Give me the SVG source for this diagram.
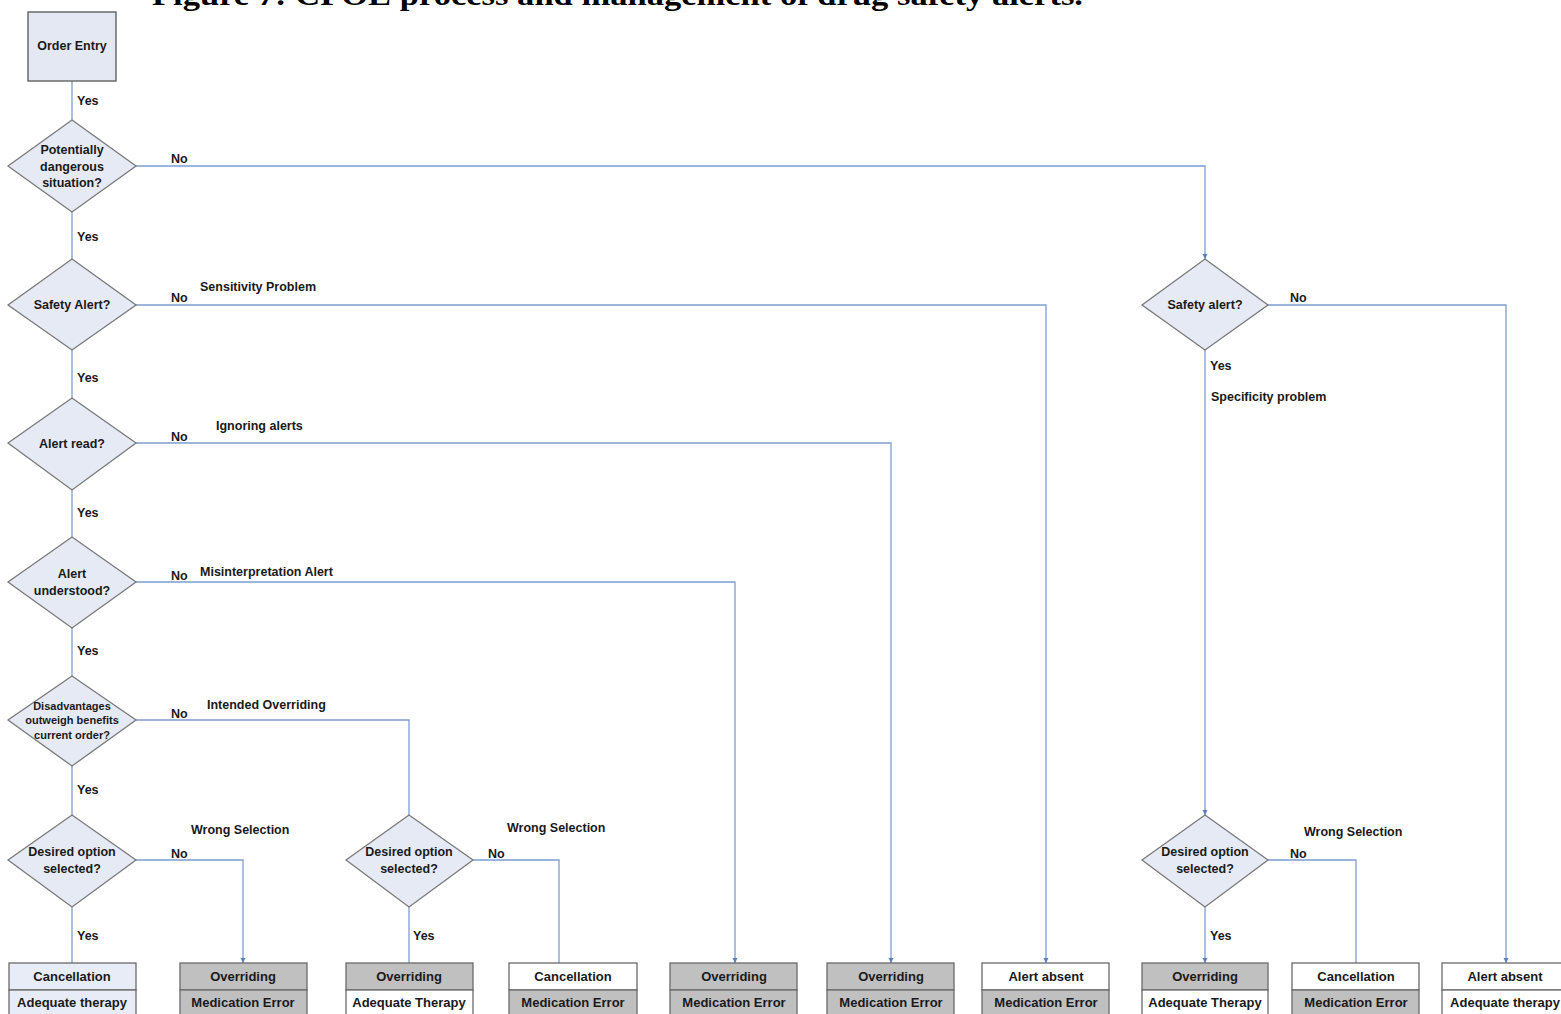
<svg xmlns="http://www.w3.org/2000/svg" width="1561" height="1014" viewBox="0 0 1561 1014">
<style>
.t{font-family:"Liberation Sans",Arial,sans-serif;font-weight:bold;font-size:12.5px;fill:#1a1a1a}
.c{text-anchor:middle}
.bt{font-family:"Liberation Sans",Arial,sans-serif;font-weight:bold;font-size:13px;fill:#1a1a1a;text-anchor:middle}
.dia{fill:#e6eaf5;stroke:#7a7a7a;stroke-width:1.3}
.box{stroke:#6a6a6a;stroke-width:1.3}
.g{fill:#c0c0c0}
.w{fill:#ffffff}
.lb{fill:#e8ecf6}
.ln{fill:none;stroke:#7f9dd0;stroke-width:1.3}
.title{font-family:"Liberation Serif","Times New Roman",serif;font-weight:bold;font-size:29px;fill:#000}
</style>
<defs>
<marker id="ah" markerWidth="6" markerHeight="6" refX="5" refY="3" orient="auto" markerUnits="userSpaceOnUse">
<path d="M0,0.5 L5,3 L0,5.5 Z" fill="#5a7ec0"/>
</marker>
</defs>
<rect width="1561" height="1014" fill="#ffffff"/>
<text class="title" x="152" y="5" textLength="931" lengthAdjust="spacingAndGlyphs">Figure 7: CPOE process and management of drug safety alerts.</text>

<g id="connectors">
<path class="ln" d="M72,81 V120"/>
<path class="ln" d="M72,212 V259"/>
<path class="ln" d="M72,350 V398"/>
<path class="ln" d="M72,490 V537"/>
<path class="ln" d="M72,628 V676"/>
<path class="ln" d="M72,766 V815"/>
<path class="ln" d="M72,907 V963"/>
<path class="ln" d="M136,166 H1205 V259" marker-end="url(#ah)"/>
<path class="ln" d="M136,305 H1046 V963" marker-end="url(#ah)"/>
<path class="ln" d="M136,443 H891 V963" marker-end="url(#ah)"/>
<path class="ln" d="M136,582 H735 V963" marker-end="url(#ah)"/>
<path class="ln" d="M136,720 H409 V815"/>
<path class="ln" d="M136,860 H243 V963" marker-end="url(#ah)"/>
<path class="ln" d="M409,907 V963"/>
<path class="ln" d="M473,860 H559 V963"/>
<path class="ln" d="M1268,305 H1506 V963" marker-end="url(#ah)"/>
<path class="ln" d="M1205,350 V815" marker-end="url(#ah)"/>
<path class="ln" d="M1205,907 V963" marker-end="url(#ah)"/>
<path class="ln" d="M1268,860 H1356 V963"/>
<g id="labels">
<text class="t" x="77" y="105">Yes</text>
<text class="t" x="77" y="241">Yes</text>
<text class="t" x="77" y="382">Yes</text>
<text class="t" x="77" y="517">Yes</text>
<text class="t" x="77" y="655">Yes</text>
<text class="t" x="77" y="794">Yes</text>
<text class="t" x="77" y="940">Yes</text>
<text class="t" x="171" y="163">No</text>
<text class="t" x="171" y="302">No</text>
<text class="t" x="200" y="291">Sensitivity Problem</text>
<text class="t" x="171" y="441">No</text>
<text class="t" x="216" y="430">Ignoring alerts</text>
<text class="t" x="171" y="580">No</text>
<text class="t" x="200" y="576">Misinterpretation Alert</text>
<text class="t" x="171" y="718">No</text>
<text class="t" x="207" y="709">Intended Overriding</text>
<text class="t" x="171" y="858">No</text>
<text class="t" x="191" y="834">Wrong Selection</text>
<text class="t" x="488" y="858">No</text>
<text class="t" x="507" y="832">Wrong Selection</text>
<text class="t" x="413" y="940">Yes</text>
<text class="t" x="1290" y="302">No</text>
<text class="t" x="1210" y="370">Yes</text>
<text class="t" x="1211" y="401">Specificity problem</text>
<text class="t" x="1304" y="836">Wrong Selection</text>
<text class="t" x="1290" y="858">No</text>
<text class="t" x="1210" y="940">Yes</text>
</g>
</g>

<g id="order-entry">
<rect x="28" y="12" width="88" height="69" fill="#e4e8f3" stroke="#555" stroke-width="1.3"/>
<text class="t c" x="72" y="50">Order Entry</text>
</g>

<g id="d-dangerous">
<polygon class="dia" points="72,120 136,166 72,212 8,166"/>
<text class="t c" x="72" y="154">Potentially</text>
<text class="t c" x="72" y="171">dangerous</text>
<text class="t c" x="72" y="187">situation?</text>
</g>
<g id="d-safety-alert">
<polygon class="dia" points="72,259 136,305 72,350 8,305"/>
<text class="t c" x="72" y="309">Safety Alert?</text>
</g>
<g id="d-alert-read">
<polygon class="dia" points="72,398 136,443 72,490 8,443"/>
<text class="t c" x="72" y="448">Alert read?</text>
</g>
<g id="d-alert-understood">
<polygon class="dia" points="72,537 136,582 72,628 8,582"/>
<text class="t c" x="72" y="578">Alert</text>
<text class="t c" x="72" y="595">understood?</text>
</g>
<g id="d-disadvantages">
<polygon class="dia" points="72,676 136,720 72,766 8,720"/>
<text class="t c" x="72" y="710" style="font-size:11px">Disadvantages</text>
<text class="t c" x="72" y="724" style="font-size:11px">outweigh benefits</text>
<text class="t c" x="72" y="739" style="font-size:11px">current order?</text>
</g>
<g id="d-desired-1">
<polygon class="dia" points="72,815 136,860 72,907 8,860"/>
<text class="t c" x="72" y="856">Desired option</text>
<text class="t c" x="72" y="873">selected?</text>
</g>
<g id="d-desired-2">
<polygon class="dia" points="409,815 473,860 409,907 346,860"/>
<text class="t c" x="409" y="856">Desired option</text>
<text class="t c" x="409" y="873">selected?</text>
</g>
<g id="d-safety-alert-2">
<polygon class="dia" points="1205,259 1268,305 1205,350 1142,305"/>
<text class="t c" x="1205" y="309">Safety alert?</text>
</g>
<g id="d-desired-3">
<polygon class="dia" points="1205,815 1268,860 1205,907 1142,860"/>
<text class="t c" x="1205" y="856">Desired option</text>
<text class="t c" x="1205" y="873">selected?</text>
</g>

<g id="out-1">
<rect class="box lb" x="9" y="963" width="127" height="27"/>
<rect class="box lb" x="9" y="990" width="127" height="30"/>
<text class="bt" x="72" y="981">Cancellation</text>
<text class="bt" x="72" y="1007">Adequate therapy</text>
</g>
<g id="out-2">
<rect class="box g" x="180" y="963" width="127" height="27"/>
<rect class="box g" x="180" y="990" width="127" height="30"/>
<text class="bt" x="243" y="981">Overriding</text>
<text class="bt" x="243" y="1007">Medication Error</text>
</g>
<g id="out-3">
<rect class="box g" x="346" y="963" width="127" height="27"/>
<rect class="box w" x="346" y="990" width="127" height="30"/>
<text class="bt" x="409" y="981">Overriding</text>
<text class="bt" x="409" y="1007">Adequate Therapy</text>
</g>
<g id="out-4">
<rect class="box w" x="509" y="963" width="128" height="27"/>
<rect class="box g" x="509" y="990" width="128" height="30"/>
<text class="bt" x="573" y="981">Cancellation</text>
<text class="bt" x="573" y="1007">Medication Error</text>
</g>
<g id="out-5">
<rect class="box g" x="670" y="963" width="127" height="27"/>
<rect class="box g" x="670" y="990" width="127" height="30"/>
<text class="bt" x="734" y="981">Overriding</text>
<text class="bt" x="734" y="1007">Medication Error</text>
</g>
<g id="out-6">
<rect class="box g" x="827" y="963" width="127" height="27"/>
<rect class="box g" x="827" y="990" width="127" height="30"/>
<text class="bt" x="891" y="981">Overriding</text>
<text class="bt" x="891" y="1007">Medication Error</text>
</g>
<g id="out-7">
<rect class="box w" x="982" y="963" width="127" height="27"/>
<rect class="box g" x="982" y="990" width="127" height="30"/>
<text class="bt" x="1046" y="981">Alert absent</text>
<text class="bt" x="1046" y="1007">Medication Error</text>
</g>
<g id="out-8">
<rect class="box g" x="1142" y="963" width="126" height="27"/>
<rect class="box w" x="1142" y="990" width="126" height="30"/>
<text class="bt" x="1205" y="981">Overriding</text>
<text class="bt" x="1205" y="1007">Adequate Therapy</text>
</g>
<g id="out-9">
<rect class="box w" x="1292" y="963" width="127" height="27"/>
<rect class="box g" x="1292" y="990" width="127" height="30"/>
<text class="bt" x="1356" y="981">Cancellation</text>
<text class="bt" x="1356" y="1007">Medication Error</text>
</g>
<g id="out-10">
<rect class="box w" x="1442" y="963" width="126" height="27"/>
<rect class="box w" x="1442" y="990" width="126" height="30"/>
<text class="bt" x="1505" y="981">Alert absent</text>
<text class="bt" x="1505" y="1007">Adequate therapy</text>
</g>
</svg>
